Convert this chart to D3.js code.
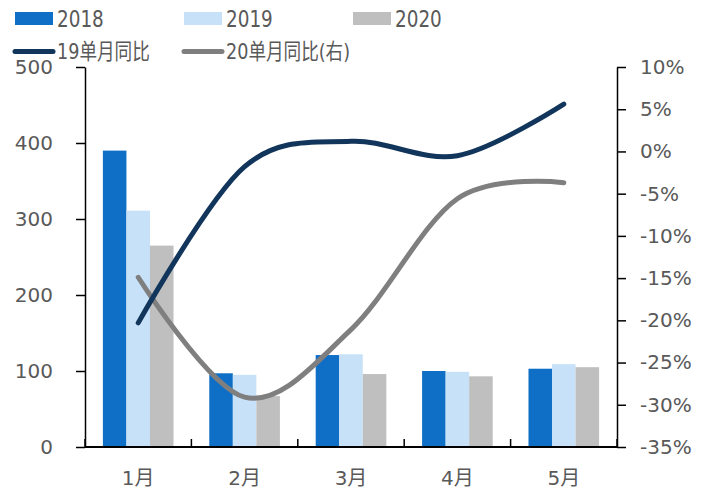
<!DOCTYPE html>
<html>
<head>
<meta charset="utf-8">
<script src="https://cdn.jsdelivr.net/npm/d3@7"></script>
<style>
  html, body { margin: 0; padding: 0; background: #fff; }
  svg { display: block; }
  text { font-family: "DejaVu Sans", "Noto Sans", "Noto Sans CJK SC", sans-serif; fill: #595959; }
</style>
</head>
<body>
<svg id="chart" width="712" height="490"></svg>
<script>
// Monthly volumes per year (left axis)
const months = ["1月", "2月", "3月", "4月", "5月"];
const years = ["2018", "2019", "2020"];
const values2018 = [390, 97, 121, 100, 103];
const values2019 = [311, 95, 122, 99, 109];
const values2020 = [265, 67, 96, 93, 105];

// Year-on-year change per month (right axis, %)
const yoy19 = [-20.3, -1.8, 1.2, -0.5, 5.6];
const yoy20 = [-14.9, -29.1, -21.1, -5.6, -3.7];

const leftTicks = [0, 100, 200, 300, 400, 500];
const rightTicks = [-35, -30, -25, -20, -15, -10, -5, 0, 5, 10];

const colors = { "2018": "#0F6FC6", "2019": "#C7E1F8", "2020": "#BFBFBF" };
const lineColors = { yoy19: "#12355B", yoy20: "#7F7F7F" };

const svg = d3.select("#chart");
const plotL = 85, plotR = 617, plotT = 67, plotB = 447;

const x0 = d3.scaleBand().domain(months).range([plotL, plotR]).padding(0);
const x1 = d3.scaleBand().domain(years).range([0, x0.bandwidth()]).paddingInner(0).paddingOuter(0.76);
const yL = d3.scaleLinear().domain([0, 500]).range([plotB, plotT]);
const yR = d3.scaleLinear().domain([-35, 10]).range([plotB, plotT]);

const barData = months.map((m, i) => ({
  month: m,
  vals: [
    { year: "2018", v: values2018[i] },
    { year: "2019", v: values2019[i] },
    { year: "2020", v: values2020[i] }
  ]
}));

// Bars
const groups = svg.append("g").selectAll("g").data(barData).join("g")
  .attr("transform", d => `translate(${x0(d.month)},0)`);
groups.selectAll("rect").data(d => d.vals).join("rect")
  .attr("x", d => x1(d.year))
  .attr("width", x1.bandwidth())
  .attr("y", d => yL(d.v))
  .attr("height", d => plotB - yL(d.v))
  .attr("fill", d => colors[d.year]);

// Left axis
const axL = svg.append("g").attr("transform", `translate(${plotL},0)`)
  .call(d3.axisLeft(yL).tickValues(leftTicks).tickSize(9).tickPadding(23).tickSizeOuter(0));
axL.select(".domain").attr("stroke", "#000").attr("stroke-width", 1.5);
axL.selectAll(".tick line").attr("stroke", "#000").attr("stroke-width", 1.5);
axL.selectAll("text").attr("font-size", 20).attr("fill", "#595959");

// Right axis
const axR = svg.append("g").attr("transform", `translate(${plotR},0)`)
  .call(d3.axisRight(yR).tickValues(rightTicks).tickFormat(d => d + "%").tickSize(9).tickPadding(14).tickSizeOuter(0));
axR.select(".domain").attr("stroke", "#000").attr("stroke-width", 1.5);
axR.selectAll(".tick line").attr("stroke", "#000").attr("stroke-width", 1.5);
axR.selectAll("text").attr("font-size", 20).attr("fill", "#595959");

// Bottom axis: ticks at category boundaries pointing inward
const bounds = months.map(m => x0(m)).concat([plotR]);
const axB = svg.append("g");
axB.append("line").attr("x1", plotL).attr("x2", plotR).attr("y1", plotB).attr("y2", plotB)
  .attr("stroke", "#000").attr("stroke-width", 2);
axB.selectAll("line.tk").data(bounds).join("line").attr("class", "tk")
  .attr("x1", d => d).attr("x2", d => d).attr("y1", plotB).attr("y2", plotB - 8)
  .attr("stroke", "#000").attr("stroke-width", 1.5);
axB.selectAll("text").data(months).join("text")
  .attr("x", d => x0(d) + x0.bandwidth() / 2)
  .attr("y", 485)
  .attr("text-anchor", "middle")
  .attr("font-size", 20)
  .attr("font-family", "'Noto Sans', 'Noto Sans CJK SC', sans-serif")
  .text(d => d);

// Smoothed YoY lines
const line = d3.line()
  .x((d, i) => x0(months[i]) + x0.bandwidth() / 2)
  .y(d => yR(d))
  .curve(d3.curveCatmullRom.alpha(0));

svg.append("path").datum(yoy20).attr("d", line)
  .attr("fill", "none").attr("stroke", lineColors.yoy20).attr("stroke-width", 5).attr("stroke-linecap", "round");
svg.append("path").datum(yoy19).attr("d", line)
  .attr("fill", "none").attr("stroke", lineColors.yoy19).attr("stroke-width", 5).attr("stroke-linecap", "round");

// Legend
const legend = svg.append("g");
const barLegend = [
  { label: "2018", color: colors["2018"], x: 15 },
  { label: "2019", color: colors["2019"], x: 184 },
  { label: "2020", color: colors["2020"], x: 353 }
];
barLegend.forEach(d => {
  legend.append("rect").attr("x", d.x).attr("y", 12).attr("width", 38).attr("height", 13).attr("fill", d.color);
  legend.append("text").attr("x", 0).attr("y", 0)
    .attr("transform", `translate(${d.x + 42},27) scale(0.8,1)`)
    .attr("font-size", 23)
    .attr("font-family", "'Noto Sans', 'Noto Sans CJK SC', sans-serif")
    .text(d.label);
});
const lineLegend = [
  { label: "19单月同比", color: lineColors.yoy19, x: 15 },
  { label: "20单月同比(右)", color: lineColors.yoy20, x: 184 }
];
lineLegend.forEach(d => {
  legend.append("line").attr("x1", d.x).attr("x2", d.x + 38).attr("y1", 51.5).attr("y2", 51.5)
    .attr("stroke", d.color).attr("stroke-width", 5).attr("stroke-linecap", "round");
  legend.append("text").attr("x", 0).attr("y", 0)
    .attr("transform", `translate(${d.x + 42},59) scale(0.8,1)`)
    .attr("font-size", 22)
    .attr("font-family", "'Noto Sans', 'Noto Sans CJK SC', sans-serif")
    .text(d.label);
});
</script>
</body>
</html>
